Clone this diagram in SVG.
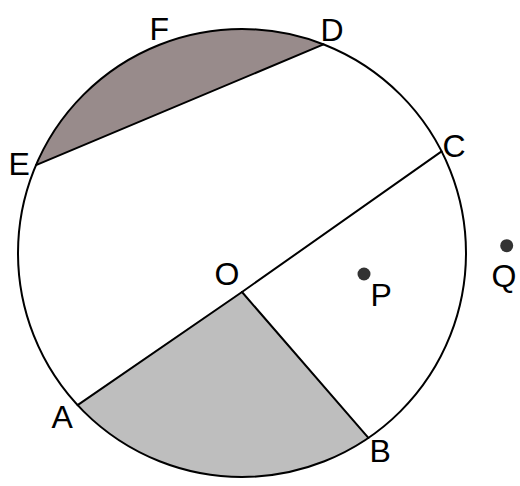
<svg xmlns="http://www.w3.org/2000/svg" width="520" height="486" viewBox="0 0 520 486">
<style>
.ln{fill:none;stroke:#000;stroke-width:2;stroke-linejoin:round;stroke-linecap:round}
.lbl{font-family:"Liberation Sans",Arial,sans-serif;font-size:32px;fill:#000}
.dot{fill:#333}
</style>
<rect width="520" height="486" fill="#fff"/>
<g id="regions">
<path id="segment-EFD" d="M36,165.1 A224,224 0 0 1 323.5,44.4 Z" fill="#988b8b" stroke="none"/>
<path id="sector-AOB" d="M242,292 L77.6,405.1 A224,224 0 0 0 368.4,437.9 Z" fill="#bebebe" stroke="none"/>
</g>
<g id="connectors">
<line class="ln" x1="36" y1="165.1" x2="323.5" y2="44.4"/>
<line class="ln" x1="242" y1="292" x2="441.6" y2="151.4"/>
<line class="ln" x1="242" y1="292" x2="77.6" y2="405.1"/>
<line class="ln" x1="242" y1="292" x2="368.4" y2="437.9"/>
</g>
<g id="circle"><circle class="ln" cx="242" cy="253" r="224"/></g>
<g id="P"><circle class="dot" cx="364" cy="274" r="6.5"/><text class="lbl" x="370.5" y="305.5">P</text></g>
<g id="Q"><circle class="dot" cx="506.7" cy="245.7" r="6.5"/><text class="lbl" x="491.5" y="286.5">Q</text></g>
<g id="O"><text class="lbl" x="214.5" y="285">O</text></g>
<g id="A"><text class="lbl" x="51.5" y="427.5">A</text></g>
<g id="B"><text class="lbl" x="369.5" y="461.5">B</text></g>
<g id="C"><text class="lbl" x="442.5" y="156.5">C</text></g>
<g id="D"><text class="lbl" x="320.5" y="40.5">D</text></g>
<g id="E"><text class="lbl" x="8.5" y="175">E</text></g>
<g id="F"><text class="lbl" x="149.5" y="39.5">F</text></g>
</svg>
